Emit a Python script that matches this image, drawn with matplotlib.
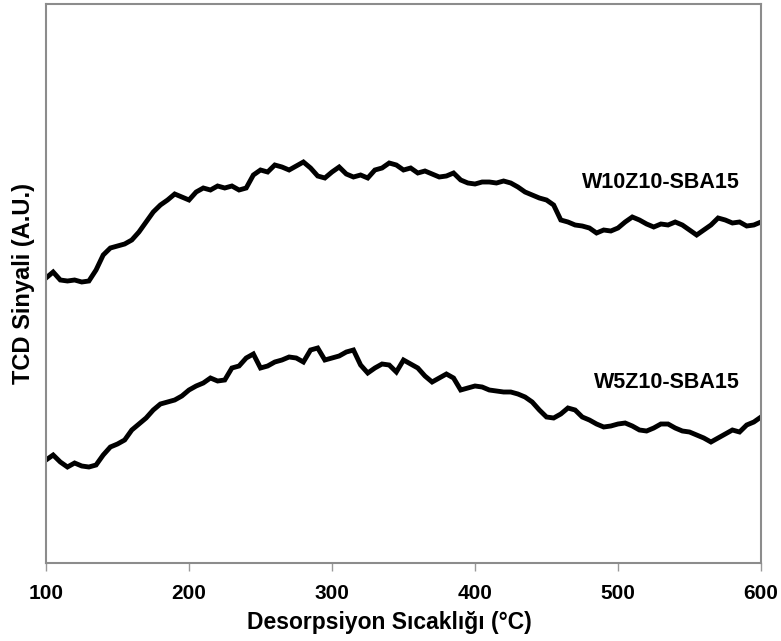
import numpy as np
import matplotlib.pyplot as plt

plt.rcParams['font.family'] = ['Liberation Sans', 'DejaVu Sans']

# desorption temperature grid, every 5 degC
temperature = np.arange(100, 601, 5)

# TCD signal (arbitrary units)
w10z10_sba15 = [298, 304, 296, 295, 296, 294, 295, 306, 321, 328,
                330, 332, 336, 344, 354, 364, 371, 376, 382, 379,
                376, 384, 388, 386, 390, 388, 390, 386, 388, 401,
                406, 404, 411, 409, 406, 410, 414, 408, 400, 398,
                404, 409, 402, 399, 401, 398, 406, 408, 413, 411,
                406, 408, 403, 405, 402, 399, 400, 403, 396, 393,
                392, 394, 394, 393, 395, 393, 389, 384, 381, 378,
                376, 371, 356, 354, 351, 350, 348, 343, 346, 345,
                348, 354, 359, 356, 352, 349, 352, 351, 354, 351,
                346, 341, 346, 351, 358, 356, 353, 354, 350, 351,
                354]

w5z10_sba15 = [116, 121, 114, 109, 113, 110, 109, 111, 121, 129,
               132, 136, 146, 152, 158, 166, 172, 174, 176, 180,
               186, 190, 193, 198, 195, 196, 208, 210, 218, 222,
               208, 210, 214, 216, 219, 218, 214, 226, 228, 216,
               218, 220, 224, 226, 211, 203, 208, 212, 211, 204,
               216, 212, 208, 200, 194, 198, 202, 198, 186, 188,
               190, 189, 186, 185, 184, 184, 182, 179, 174, 166,
               159, 158, 162, 168, 166, 159, 156, 152, 149, 150,
               152, 153, 150, 146, 145, 148, 152, 152, 148, 145,
               144, 141, 138, 134, 138, 142, 146, 144, 151, 154,
               159]

fig = plt.figure(figsize=(7.81, 6.41), dpi=100)
ax = fig.add_axes([46 / 781, 78 / 641, 715 / 781, 559 / 641])

ax.plot(temperature, w10z10_sba15, color='black', lw=3.5, solid_joinstyle='miter')
ax.plot(temperature, w5z10_sba15, color='black', lw=3.5, solid_joinstyle='miter')

ax.text(585, 393, 'W10Z10-SBA15', ha='right', va='center', fontsize=15.5, fontweight='bold')
ax.text(585, 194, 'W5Z10-SBA15', ha='right', va='center', fontsize=15.5, fontweight='bold')

ax.set_xlim(100, 600)
ax.set_ylim(13, 572)
ax.set_xticks([100, 200, 300, 400, 500, 600])
ax.set_yticks([])
ax.tick_params(axis='x', direction='out', length=6, width=1, color='#999999',
               labelsize=15, pad=9)
for lbl in ax.get_xticklabels():
    lbl.set_fontweight('bold')

for side in ['left', 'right', 'top', 'bottom']:
    ax.spines[side].set_color('#8c8c8c')
    ax.spines[side].set_linewidth(1.5)

ax.set_xlabel('Desorpsiyon Sıcaklığı (°C)', fontsize=16.5, fontweight='bold')
ax.xaxis.set_label_coords(0.48, -0.085)
ax.set_ylabel('TCD Sinyali (A.U.)', fontsize=17, fontweight='bold', labelpad=8)

fig.savefig('out.png', dpi=100)
